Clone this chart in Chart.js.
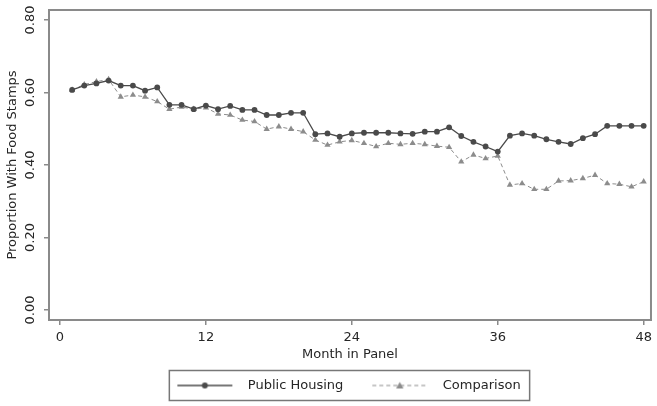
<!DOCTYPE html>
<html><head><meta charset="utf-8">
<script src="https://cdn.jsdelivr.net/npm/chart.js@4.4.0/dist/chart.umd.min.js"></script>
<style>html,body{margin:0;padding:0;background:#fff;}#wrap{width:657px;height:406px;}</style>
</head><body><div id="wrap"><canvas id="c" width="657" height="406"></canvas></div>
<script>
const months = [1,2,3,4,5,6,7,8,9,10,11,12,13,14,15,16,17,18,19,20,21,22,23,24,25,26,27,28,29,30,31,32,33,34,35,36,37,38,39,40,41,42,43,44,45,46,47,48];
const publicHousing = [0.607,0.619,0.625,0.633,0.619,0.619,0.605,0.614,0.566,0.566,0.554,0.564,0.554,0.563,0.552,0.552,0.538,0.538,0.544,0.544,0.485,0.487,0.478,0.487,0.489,0.489,0.489,0.487,0.486,0.492,0.492,0.504,0.480,0.464,0.451,0.437,0.481,0.487,0.481,0.471,0.464,0.458,0.474,0.485,0.508,0.508,0.508,0.508];
const comparison = [0.607,0.622,0.630,0.636,0.588,0.593,0.588,0.575,0.554,0.560,0.554,0.558,0.541,0.538,0.524,0.520,0.499,0.506,0.499,0.492,0.469,0.455,0.464,0.468,0.460,0.451,0.460,0.457,0.460,0.457,0.452,0.449,0.409,0.428,0.418,0.425,0.345,0.349,0.333,0.333,0.356,0.357,0.363,0.372,0.349,0.347,0.340,0.354];
const seriesNames = ['Public Housing','Comparison'];
const xTickValues = [0,12,24,36,48];
const yTickValues = [0,0.2,0.4,0.6,0.8];
const yTickLabels = ['0.00','0.20','0.40','0.60','0.80'];
const xTitle = 'Month in Panel';
const yTitle = 'Proportion With Food Stamps';

const PH_COLOR = '#4a4a4a';
const CMP_COLOR = '#8c8c8c';
const TEXT_COLOR = '#262626';
const FONT = "'DejaVu Sans', sans-serif";

Chart.defaults.font.family = FONT;
Chart.defaults.font.size = 13;
Chart.defaults.color = TEXT_COLOR;

function sample(color, dash, style, lw){
  const c = document.createElement('canvas'); c.width = 80; c.height = 12;
  const g = c.getContext('2d');
  g.strokeStyle = color; g.lineWidth = lw; g.setLineDash(dash);
  g.beginPath(); g.moveTo(16,6); g.lineTo(71,6); g.stroke();
  g.setLineDash([]); g.fillStyle = color;
  if (style === 'circle') { g.beginPath(); g.arc(43.5,6,3,0,2*Math.PI); g.fill(); }
  else { g.beginPath(); g.moveTo(43.5,2.5); g.lineTo(47.2,9); g.lineTo(39.8,9); g.closePath(); g.fill(); }
  return c;
}
const legendImgs = [sample(PH_COLOR,[],'circle',1.3), sample(CMP_COLOR,[4,3],'triangle',1)];

const framePlugin = {
  id: 'frame',
  beforeLayout(chart){
    const lg = chart.legend;
    if (lg && !lg._patched) {
      const f = lg.fit.bind(lg);
      lg.fit = function(){ f(); this.height = 40; };
      lg._patched = true;
    }
  },
  afterLayout(chart){
    const lg = chart.legend;
    if (lg) { lg.left -= 9; lg.right -= 9; }
  },
  afterDraw(chart){
    const {ctx, chartArea:a} = chart;
    ctx.save();
    ctx.strokeStyle = '#8a8a8a'; ctx.lineWidth = 2;
    ctx.strokeRect(a.left, a.top, a.right - a.left, a.bottom - a.top);
    // rotated y tick labels, positioned by the y scale
    const ys = chart.scales.y;
    ctx.fillStyle = TEXT_COLOR; ctx.font = '13px ' + FONT;
    ctx.textAlign = 'center'; ctx.textBaseline = 'middle';
    yTickValues.forEach((v, i) => {
      const py = ys.getPixelForValue(v);
      ctx.save(); ctx.translate(ys.right - 18, py); ctx.rotate(-Math.PI/2);
      ctx.fillText(yTickLabels[i], 0, 0); ctx.restore();
    });
    const lg = chart.legend;
    if (lg && lg.legendHitBoxes && lg.legendHitBoxes.length) {
      const hb = lg.legendHitBoxes;
      const l = hb[0].left + 8;
      const last = hb[hb.length-1];
      const r = last.left + last.width + 9;
      const cy = hb[0].top + hb[0].height/2;
      ctx.lineWidth = 1.5; ctx.strokeStyle = '#777';
      ctx.strokeRect(l, cy - 15, r - l, 30);
    }
    ctx.restore();
  }
};

new Chart(document.getElementById('c'), {
  type: 'line',
  data: {
    datasets: [
      { label: seriesNames[0], data: months.map((m,i)=>({x:m, y:publicHousing[i]})),
        borderColor: PH_COLOR, backgroundColor: PH_COLOR, borderWidth: 1.3,
        pointStyle: 'circle', pointRadius: 2.9, pointBorderWidth: 0, pointBackgroundColor: PH_COLOR, tension: 0 },
      { label: seriesNames[1], data: months.map((m,i)=>({x:m, y:comparison[i]})),
        borderColor: CMP_COLOR, backgroundColor: CMP_COLOR, borderWidth: 1, borderDash: [4,3],
        pointStyle: 'triangle', pointRadius: 3.6, pointBorderWidth: 0, pointBackgroundColor: CMP_COLOR, tension: 0 }
    ]
  },
  options: {
    responsive: false, animation: false, devicePixelRatio: 1,
    layout: { padding: { top: 10, right: 2, left: 0, bottom: 0 } },
    plugins: {
      tooltip: { enabled: false },
      legend: {
        position: 'bottom', fullSize: false,
        labels: {
          usePointStyle: true, pointStyleWidth: 80, boxHeight: 12, padding: 13,
          font: { size: 13 }, color: TEXT_COLOR,
          generateLabels(chart){
            return chart.data.datasets.map((ds,i)=>({ text: ds.label, pointStyle: legendImgs[i],
              fillStyle: ds.borderColor, strokeStyle: ds.borderColor, lineWidth: 0, hidden: false,
              datasetIndex: i, fontColor: TEXT_COLOR }));
          }
        }
      }
    },
    scales: {
      x: {
        type: 'linear', min: -0.9, max: 48.6,
        afterBuildTicks(s){ s.ticks = xTickValues.map(v=>({value:v})); },
        afterFit(s){ s.height = 46; },
        grid: { drawOnChartArea: false, drawTicks: true, tickLength: 5, color: '#8a8a8a', lineWidth: 1.5 },
        border: { display: true, color: '#8a8a8a', width: 2 },
        ticks: { padding: 5, maxRotation: 0, minRotation: 0, color: TEXT_COLOR, callback: v => String(v) },
        title: { display: true, text: xTitle, padding: { top: 0, bottom: 4 }, color: TEXT_COLOR }
      },
      y: {
        type: 'linear', min: -0.0276, max: 0.8276,
        afterBuildTicks(s){ s.ticks = yTickValues.map(v=>({value:v})); },
        afterFit(s){ s.width = 49; },
        grid: { drawOnChartArea: false, drawTicks: true, tickLength: 5, color: '#8a8a8a', lineWidth: 1.5 },
        border: { display: true, color: '#8a8a8a', width: 2 },
        ticks: { display: false },
        title: { display: true, text: yTitle, padding: { top: 5, bottom: 0 }, color: TEXT_COLOR }
      }
    }
  },
  plugins: [framePlugin]
});
</script>
</body></html>
